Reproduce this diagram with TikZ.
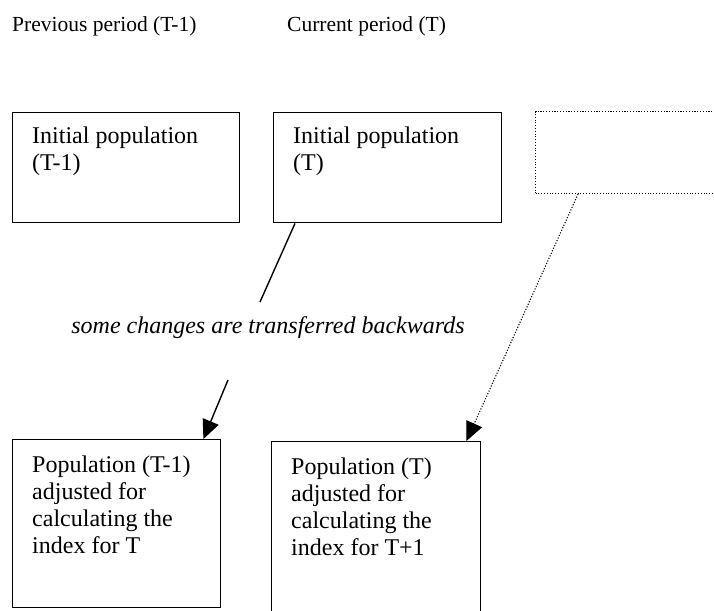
\documentclass[tikz,border=0pt]{standalone}
\usepackage{fontspec}
\setmainfont{Liberation Serif}
\usetikzlibrary{arrows.meta, positioning}

\begin{document}
\begin{tikzpicture}[x=1pt, y=-1pt,
  box/.style={draw, line width=1.4pt, inner sep=0pt, anchor=north west},
  dotbox/.style={box, line width=1.1pt, dash pattern=on 1.1pt off 1.7pt},
  boxtext/.style={inner sep=0pt, align=left, font=\fontsize{24}{27}\selectfont},
  head/.style={inner sep=0pt, anchor=base west, font=\fontsize{21.5}{24}\selectfont},
  tip/.style={-{Triangle[length=19pt,width=17pt]}}]
  \fill[white] (0,0) rectangle (714,610);
  \useasboundingbox (0,0) rectangle (714,610);
  % headings
  \node[head] (hPrev) at (12,32) {Previous period (T-1)};
  \node[head] (hCur) at (287,32) {Current period (T)};
  % initial populations
  \node[box, minimum width=227pt, minimum height=110pt] (initPrev) at (12,112) {};
  \node[box, minimum width=228pt, minimum height=110pt] (initCur) at (273,112) {};
  \node[dotbox, minimum width=200pt, minimum height=82pt] (initNext) at (535,111) {};
  \node[boxtext, below right=15pt and 20pt of initPrev.north west] (tPrev) {Initial population\\(T-1)};
  \node[boxtext, below right=15pt and 20pt of initCur.north west] (tCur) {Initial population\\(T)};
  % adjusted populations
  \node[box, minimum width=208pt, minimum height=168pt] (adjPrev) at (12,439) {};
  \node[box, minimum width=209pt, minimum height=185pt] (adjCur) at (271,441) {};
  \node[boxtext, below right=17pt and 20pt of adjPrev.north west] (tAdjPrev) {Population (T-1)\\adjusted for\\calculating the\\index for T};
  \node[boxtext, below right=17pt and 20pt of adjCur.north west] (tAdjCur) {Population (T)\\adjusted for\\calculating the\\index for T+1};
  % note between the rows
  \node[inner sep=0pt, anchor=base, font=\fontsize{24}{28}\selectfont\itshape] (note) at (268,333) {some changes are transferred backwards};
  \coordinate (cutA) at (260,302);
  \coordinate (cutB) at (228,380);
  \draw[line width=1.4pt] ([xshift=22pt]initCur.south west) -- (cutA);
  \draw[line width=1.4pt, tip] (cutB) -- ([xshift=-18pt]adjPrev.north east);
  \draw[line width=1.1pt, dash pattern=on 1.1pt off 1.7pt, tip]
    ([xshift=43pt]initNext.south west) -- ([xshift=-15pt]adjCur.north east);
\end{tikzpicture}
\end{document}
